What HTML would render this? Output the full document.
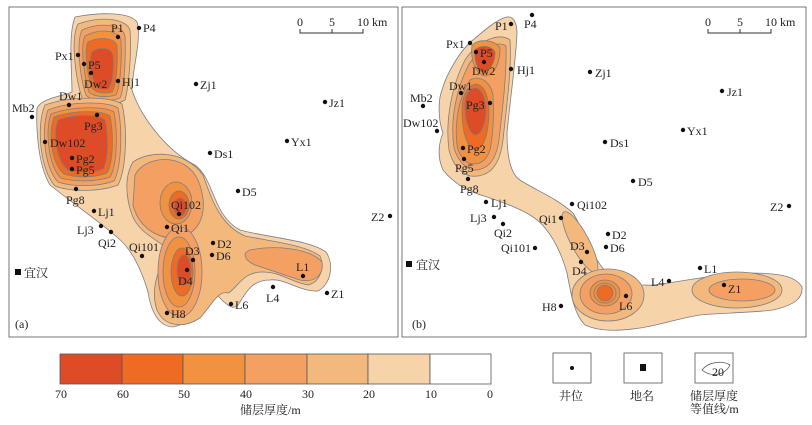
<!DOCTYPE html>
<html><head><meta charset="utf-8"><style>
body{margin:0;background:#fff;width:812px;height:420px;overflow:hidden}
svg text{font-family:"Liberation Serif","Noto Serif CJK SC",serif;font-size:12px;fill:#222}
</style></head><body>
<svg width="812" height="420" viewBox="0 0 812 420" xmlns="http://www.w3.org/2000/svg">
<g stroke="#7d7d86" stroke-width="0.8">
<rect x="9" y="7" width="389" height="330" fill="#fff" stroke="#555"/>
<path fill="#f6d3a9" d="M75,17 C100,12 130,12 137,22 C142,40 132,70 132,90 C140,115 165,150 195,165 C215,180 212,215 240,230 C270,238 310,240 326,252 C335,265 330,285 318,291 C300,292 285,278 270,280 C250,280 245,295 238,305 C232,312 222,300 218,296 C205,305 190,325 172,327 C155,325 150,305 148,292 C140,265 130,248 118,238 C100,222 75,205 50,185 C38,165 36,130 37,108 C42,98 60,97 72,92 C72,70 68,35 75,17 Z"/>
<path fill="#f3b97c" d="M133,162 C150,150 185,150 203,175 C212,200 220,225 245,236 C275,242 305,245 320,256 C325,268 320,282 308,285 C290,282 282,272 262,272 C242,272 236,290 228,293 C218,290 212,305 200,318 C185,328 165,328 157,310 C150,290 158,270 168,250 C160,240 140,235 132,215 C125,195 125,175 133,162 Z"/>
<path fill="#f4a062" d="M135,175 C145,155 185,152 198,180 C208,205 205,230 180,238 C155,240 138,225 133,205 Z"/>
<path fill="#f4a062" d="M250,250 C275,245 310,248 322,262 C324,275 315,283 300,280 C285,275 270,270 255,265 C244,260 242,253 250,250 Z"/>
<ellipse cx="180" cy="272" rx="22" ry="45" fill="#f4a062"/>
<ellipse cx="179" cy="272" rx="16" ry="35" fill="#f0923f"/>
<ellipse cx="182" cy="272" rx="11" ry="24" fill="#ef6a22"/>
<ellipse cx="184" cy="270" rx="7" ry="15" fill="#dd4b27"/>
<ellipse cx="176" cy="203" rx="16" ry="21" fill="#f0923f"/>
<ellipse cx="179" cy="205" rx="10" ry="14" fill="#ef6a22"/>
<ellipse cx="180" cy="207" rx="6" ry="9" fill="#dd4b27"/>
<path fill="#f3b97c" d="M78,24 C100,16 126,18 130,30 C132,55 128,90 125,100 C115,106 90,106 82,98 C76,80 70,40 78,24 Z"/>
<path fill="#f4a062" d="M82,30 C100,22 122,24 125,36 C126,60 124,90 120,98 C110,102 92,102 86,95 C80,78 76,42 82,30 Z"/>
<path fill="#f0923f" d="M85,36 C100,28 118,30 121,40 C122,62 120,88 116,95 C106,98 94,97 89,92 C84,76 80,46 85,36 Z"/>
<path fill="#ef6a22" d="M88,42 C100,36 115,38 117,46 C118,65 116,86 112,92 C104,94 96,93 92,88 C87,74 84,50 88,42 Z"/>
<path fill="#dd4b27" d="M92,52 C100,46 112,48 113,56 C114,70 112,85 108,89 C102,90 97,89 95,85 C91,74 89,58 92,52 Z"/>
<path fill="#f3b97c" d="M45,105 C70,96 110,96 122,104 C128,130 126,170 118,185 C100,192 70,192 55,186 C40,170 36,125 45,105 Z"/>
<path fill="#f4a062" d="M48,110 C70,101 108,101 118,108 C123,132 121,168 114,181 C98,187 72,187 58,182 C44,168 41,128 48,110 Z"/>
<path fill="#f0923f" d="M51,114 C72,106 105,106 114,112 C118,134 117,166 110,177 C96,182 74,182 61,178 C48,166 45,130 51,114 Z"/>
<path fill="#ef6a22" d="M54,117 C73,110 102,110 110,116 C114,136 113,163 107,173 C95,178 76,178 64,174 C51,163 48,132 54,117 Z"/>
<path fill="#dd4b27" d="M58,120 C75,114 98,114 105,120 C109,138 108,160 103,169 C92,173 78,173 68,170 C56,160 53,134 58,120 Z"/>
<rect x="402" y="7" width="404" height="330" fill="#fff" stroke="#555"/>
<path fill="#f6d3a9" d="M507,17 C513,16 517,22 517,33 C516,60 510,100 507,133 C507,160 512,175 520,180 C535,190 555,197 573,213 C585,232 590,255 607,273 C620,283 640,286 653,285 C680,282 720,273 750,273 C775,273 795,275 802,287 C803,298 795,305 773,310 C750,313 717,313 700,315 C680,318 660,325 640,328 C620,331 600,332 585,325 C575,315 572,300 567,273 C562,255 555,240 545,228 C535,215 517,207 487,197 C470,192 455,185 443,170 C436,155 440,140 443,133 C438,120 438,100 442,90 C446,75 460,50 473,40 C485,30 497,19 507,17 Z"/>
<path fill="#f3b97c" d="M449,150 C445,120 452,85 465,60 C478,40 500,32 510,40 C512,70 506,110 503,140 C500,165 490,178 470,176 C458,172 452,162 449,150 Z"/>
<path fill="#f4a062" d="M454,148 C450,120 456,90 468,66 C478,48 498,40 506,46 C507,75 502,112 499,140 C496,160 488,171 472,170 C462,166 457,158 454,148 Z"/>
<path fill="#f0923f" d="M457,145 C454,120 460,95 470,80 C478,75 490,80 493,95 C494,115 493,135 490,150 C486,162 478,166 468,163 C461,158 458,152 457,145 Z"/>
<path fill="#f0923f" d="M472,45 C480,38 495,40 500,48 C500,62 495,75 485,76 C476,74 470,60 472,45 Z"/>
<path fill="#ef6a22" d="M462,110 C462,95 468,85 476,84 C486,86 489,98 489,115 C488,135 484,148 476,150 C466,148 462,130 462,110 Z"/>
<path fill="#dd4b27" d="M465,105 C465,94 470,88 476,88 C483,90 486,100 486,112 C485,125 481,135 475,135 C468,132 465,118 465,105 Z"/>
<path fill="#dd4b27" d="M475,50 C481,44 492,46 495,52 C495,62 490,72 483,72 C477,70 474,60 475,50 Z"/>
<ellipse cx="580" cy="242" rx="9" ry="34" transform="rotate(-28 580 242)" fill="#f3b97c"/>
<ellipse cx="608" cy="295" rx="36" ry="26" fill="#f3b97c"/>
<ellipse cx="606" cy="294" rx="26" ry="20" fill="#f4a062"/>
<ellipse cx="605" cy="293" rx="15" ry="13" fill="#f0923f"/>
<ellipse cx="605" cy="293" rx="11" ry="10" fill="#f0923f"/>
<ellipse cx="605" cy="293" rx="8" ry="8" fill="#ef6a22"/>
<ellipse cx="737" cy="290" rx="45" ry="18" fill="#f3b97c"/>
<ellipse cx="742" cy="290" rx="33" ry="11" fill="#f4a062"/>
</g>
<g stroke="#333" stroke-width="1" fill="none">
<path d="M300,29 V33 H363 V29 M332,29 V33"/>
<path d="M708,29 V33 H771 V29 M740,29 V33"/>
</g>
<g>
<text x="297" y="26">0</text><text x="329" y="26">5</text><text x="357" y="26">10 km</text>
<text x="705" y="26">0</text><text x="737" y="26">5</text><text x="765" y="26">10 km</text>
</g>
<g fill="#111">
<circle cx="118" cy="37" r="2.2"/><circle cx="139" cy="28" r="2.2"/><circle cx="78" cy="55" r="2.2"/><circle cx="84" cy="64" r="2.2"/><circle cx="91" cy="73" r="2.2"/><circle cx="118" cy="81" r="2.2"/><circle cx="196" cy="84" r="2.2"/><circle cx="325" cy="102" r="2.2"/><circle cx="32" cy="117" r="2.2"/><circle cx="69" cy="105" r="2.2"/><circle cx="97" cy="115" r="2.2"/><circle cx="45" cy="142" r="2.2"/><circle cx="287" cy="141" r="2.2"/><circle cx="210" cy="153" r="2.2"/><circle cx="72" cy="158" r="2.2"/><circle cx="72" cy="169" r="2.2"/><circle cx="76" cy="189" r="2.2"/><circle cx="238" cy="191" r="2.2"/><circle cx="94" cy="211" r="2.2"/><circle cx="179" cy="214" r="2.2"/><circle cx="390" cy="216" r="2.2"/><circle cx="101" cy="226" r="2.2"/><circle cx="111" cy="232" r="2.2"/><circle cx="167" cy="227" r="2.2"/><circle cx="142" cy="256" r="2.2"/><circle cx="213" cy="243" r="2.2"/><circle cx="193" cy="260" r="2.2"/><circle cx="212" cy="255" r="2.2"/><circle cx="303" cy="276" r="2.2"/><circle cx="187" cy="270" r="2.2"/><circle cx="273" cy="287" r="2.2"/><circle cx="327" cy="293" r="2.2"/><circle cx="231" cy="304" r="2.2"/><circle cx="167" cy="313" r="2.2"/>
<rect x="15" y="269" width="6" height="6"/>
</g>
<g>
<text x="111" y="32">P1</text><text x="143" y="32">P4</text><text x="55" y="60">Px1</text><text x="88" y="69">P5</text><text x="84" y="88">Dw2</text><text x="122" y="86">Hj1</text><text x="200" y="89">Zj1</text><text x="329" y="107">Jz1</text><text x="12" y="112">Mb2</text><text x="59" y="100">Dw1</text><text x="84" y="130">Pg3</text><text x="50" y="147">Dw102</text><text x="291" y="146">Yx1</text><text x="214" y="158">Ds1</text><text x="76" y="163">Pg2</text><text x="76" y="174">Pg5</text><text x="66" y="204">Pg8</text><text x="242" y="196">D5</text><text x="98" y="216">Lj1</text><text x="171" y="209">Qi102</text><text x="371" y="221">Z2</text><text x="77" y="234">Lj3</text><text x="98" y="247">Qi2</text><text x="171" y="232">Qi1</text><text x="129" y="251">Qi101</text><text x="217" y="248">D2</text><text x="185" y="255">D3</text><text x="216" y="260">D6</text><text x="24" y="277">宜汉</text><text x="296" y="271">L1</text><text x="178" y="285">D4</text><text x="266" y="302">L4</text><text x="331" y="298">Z1</text><text x="235" y="309">L6</text><text x="171" y="318">H8</text>
<text x="15" y="328">(a)</text>
</g>
<g fill="#111">
<circle cx="511" cy="24" r="2.2"/><circle cx="532" cy="15" r="2.2"/><circle cx="470" cy="43" r="2.2"/><circle cx="476" cy="52" r="2.2"/><circle cx="484" cy="62" r="2.2"/><circle cx="511" cy="69" r="2.2"/><circle cx="590" cy="72" r="2.2"/><circle cx="722" cy="91" r="2.2"/><circle cx="423" cy="106" r="2.2"/><circle cx="461" cy="93" r="2.2"/><circle cx="490" cy="103" r="2.2"/><circle cx="437" cy="131" r="2.2"/><circle cx="683" cy="130" r="2.2"/><circle cx="605" cy="142" r="2.2"/><circle cx="463" cy="148" r="2.2"/><circle cx="464" cy="159" r="2.2"/><circle cx="468" cy="179" r="2.2"/><circle cx="633" cy="181" r="2.2"/><circle cx="486" cy="202" r="2.2"/><circle cx="572" cy="204" r="2.2"/><circle cx="789" cy="206" r="2.2"/><circle cx="494" cy="217" r="2.2"/><circle cx="503" cy="224" r="2.2"/><circle cx="561" cy="218" r="2.2"/><circle cx="608" cy="234" r="2.2"/><circle cx="535" cy="248" r="2.2"/><circle cx="606" cy="247" r="2.2"/><circle cx="587" cy="252" r="2.2"/><circle cx="581" cy="262" r="2.2"/><circle cx="700" cy="268" r="2.2"/><circle cx="669" cy="281" r="2.2"/><circle cx="724" cy="285" r="2.2"/><circle cx="626" cy="296" r="2.2"/><circle cx="561" cy="306" r="2.2"/>
<rect x="406" y="261" width="6" height="6"/>
</g>
<g>
<text x="495" y="30">P1</text><text x="524" y="28">P4</text><text x="446" y="48">Px1</text><text x="480" y="57">P5</text><text x="472" y="75">Dw2</text><text x="517" y="74">Hj1</text><text x="595" y="77">Zj1</text><text x="727" y="96">Jz1</text><text x="410" y="102">Mb2</text><text x="449" y="90">Dw1</text><text x="466" y="109">Pg3</text><text x="403" y="127">Dw102</text><text x="687" y="135">Yx1</text><text x="610" y="147">Ds1</text><text x="467" y="153">Pg2</text><text x="455" y="172">Pg5</text><text x="460" y="193">Pg8</text><text x="638" y="186">D5</text><text x="491" y="207">Lj1</text><text x="577" y="209">Qi102</text><text x="770" y="211">Z2</text><text x="470" y="222">Lj3</text><text x="494" y="237">Qi2</text><text x="539" y="223">Qi1</text><text x="612" y="239">D2</text><text x="501" y="252">Qi101</text><text x="610" y="252">D6</text><text x="570" y="250">D3</text><text x="572" y="275">D4</text><text x="704" y="273">L1</text><text x="651" y="286">L4</text><text x="728" y="293">Z1</text><text x="619" y="310">L6</text><text x="542" y="311">H8</text><text x="416" y="269">宜汉</text>
<text x="412" y="328">(b)</text>
</g>
<g stroke="#555" stroke-width="0.8">
<rect x="60" y="354" width="62" height="30" fill="#dd4b27"/>
<rect x="122" y="354" width="61" height="30" fill="#ef6a22"/>
<rect x="183" y="354" width="62" height="30" fill="#f0923f"/>
<rect x="245" y="354" width="62" height="30" fill="#f4a062"/>
<rect x="307" y="354" width="61" height="30" fill="#f3b97c"/>
<rect x="368" y="354" width="62" height="30" fill="#f6d3a9"/>
<rect x="430" y="354" width="61" height="30" fill="#fff"/>
<rect x="553" y="353" width="38" height="30" fill="#fff"/>
<rect x="624" y="353" width="38" height="30" fill="#fff"/>
<rect x="695" y="353" width="38" height="30" fill="#fff"/>
<path d="M702,370 C708,362 722,360 730,365 C725,375 712,378 702,370 Z" fill="none"/>
</g>
<circle cx="572" cy="368" r="2" fill="#111"/>
<rect x="640" y="364" width="6" height="7" fill="#111"/>
<g>
<text x="55" y="398">70</text><text x="117" y="398">60</text><text x="178" y="398">50</text><text x="240" y="398">40</text><text x="302" y="398">30</text><text x="363" y="398">20</text><text x="425" y="398">10</text><text x="487" y="398">0</text>
<text x="240" y="414" font-size="12">储层厚度/m</text>
<text x="559" y="400" font-size="12">井位</text>
<text x="630" y="400" font-size="12">地名</text>
<text x="690" y="400" font-size="12">储层厚度</text>
<text x="690" y="413" font-size="12">等值线/m</text>
<text x="712" y="376" font-size="8">20</text>
</g>
</svg>
</body></html>
